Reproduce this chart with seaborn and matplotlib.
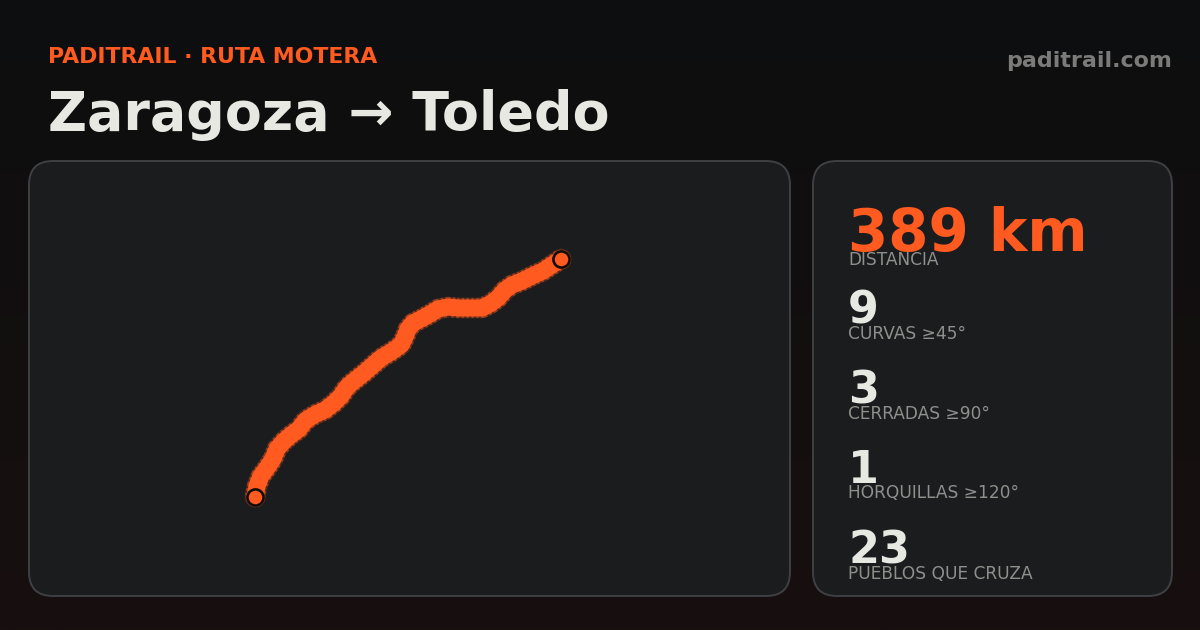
import numpy as np
import matplotlib
matplotlib.use("Agg")
import matplotlib.pyplot as plt
from matplotlib.patches import FancyBboxPatch
import seaborn as sns

# Route (pixel space of the card)
route_x = [255, 257, 261, 267, 273, 277, 284, 291, 299, 306, 316, 325, 334, 341, 347, 354, 364, 372, 381, 391, 401, 405, 408, 413, 421, 430, 438, 448, 459, 470, 482, 490, 498, 505, 512, 522, 532, 543, 552, 561]
route_y = [497, 486, 476, 468, 459, 449, 441, 435, 429, 420, 414, 410, 403, 396, 387, 381, 373, 366, 358, 352, 345, 337, 329, 323, 319, 314, 309, 307, 308, 308, 308, 304, 298, 290, 285, 281, 276, 271, 265, 259]

stat_values = ["389 km", "9", "3", "1", "23"]
stat_labels = ["DISTANCIA", "CURVAS ≥45°", "CERRADAS ≥90°", "HORQUILLAS ≥120°", "PUEBLOS QUE CRUZA"]
stat_sizes = [41.6, 32, 32, 32, 32]
stat_value_y = [251, 323, 403, 483, 563]
stat_label_y = [265, 339, 419, 498, 579]

ORANGE = "#ff5a1f"
TEXT = "#e8e8e3"
GREY = "#8f8f8c"

sns.set_theme(style="white")
plt.rcParams["font.family"] = ["DejaVu Sans"]

fig = plt.figure(figsize=(12, 6.3), dpi=100)
ax = fig.add_axes([0, 0, 1, 1])
ax.set_xlim(0, 1200)
ax.set_ylim(630, 0)
ax.axis("off")

# background gradient, top to bottom
top = np.array([13, 14, 16]) / 255
bottom = np.array([24, 16, 15]) / 255
steps = np.linspace(0, 1, 256)[:, None, None]
grad = top[None, None, :] * (1 - steps) + bottom[None, None, :] * steps
ax.imshow(grad, extent=[0, 1200, 630, 0], aspect="auto", zorder=0)

# panels
for x0, x1 in [(29, 790), (813, 1172)]:
    ax.add_patch(FancyBboxPatch((x0 + 20, 181), x1 - x0 - 40, 395,
                                boxstyle="round,pad=20,rounding_size=24",
                                fc="#1a1c1e", ec="#3e4043", lw=1.4, zorder=1))

# route: soft halo, dashed fringe, then solid core
sns.lineplot(x=route_x, y=route_y, ax=ax, sort=False, estimator=None, color=ORANGE,
             lw=15, alpha=0.2, zorder=2, solid_capstyle="round")
sns.lineplot(x=route_x, y=route_y, ax=ax, sort=False, estimator=None, color="#d04a1b",
             lw=14.5, alpha=0.6, zorder=3, dashes=(0.13, 0.11), dash_capstyle="butt")
sns.lineplot(x=route_x, y=route_y, ax=ax, sort=False, estimator=None, color=ORANGE,
             lw=12.3, zorder=4, solid_capstyle="round")

# start and end markers
ends_x = [route_x[0], route_x[-1]]
ends_y = [route_y[0], route_y[-1]]
sns.scatterplot(x=ends_x, y=ends_y, ax=ax, s=195, color=ORANGE, alpha=0.6, linewidth=0, zorder=5)
sns.scatterplot(x=ends_x, y=ends_y, ax=ax, s=135, color=ORANGE,
                edgecolor="#120d0b", linewidth=1.9, zorder=6)

# header
ax.text(48, 63, "PADITRAIL · RUTA MOTERA", color=ORANGE, fontsize=15.85, fontweight="bold", va="baseline", zorder=7)
ax.text(48, 130, "Zaragoza → Toledo", color=TEXT, fontsize=38.8, fontweight="bold", va="baseline", zorder=7)
ax.text(1172, 67, "paditrail.com", color="#7b7b79", fontsize=15.9, fontweight="bold", va="baseline", ha="right", zorder=7)

# stats column
for val, lab, size, vy, ly in zip(stat_values, stat_labels, stat_sizes, stat_value_y, stat_label_y):
    col = ORANGE if val == stat_values[0] else TEXT
    ax.text(848, vy, val, color=col, fontsize=size, fontweight="bold", va="baseline", zorder=7)
    ax.text(848, ly, lab, color=GREY, fontsize=12.25, va="baseline", zorder=7)

fig.savefig("out.png", dpi=100)
